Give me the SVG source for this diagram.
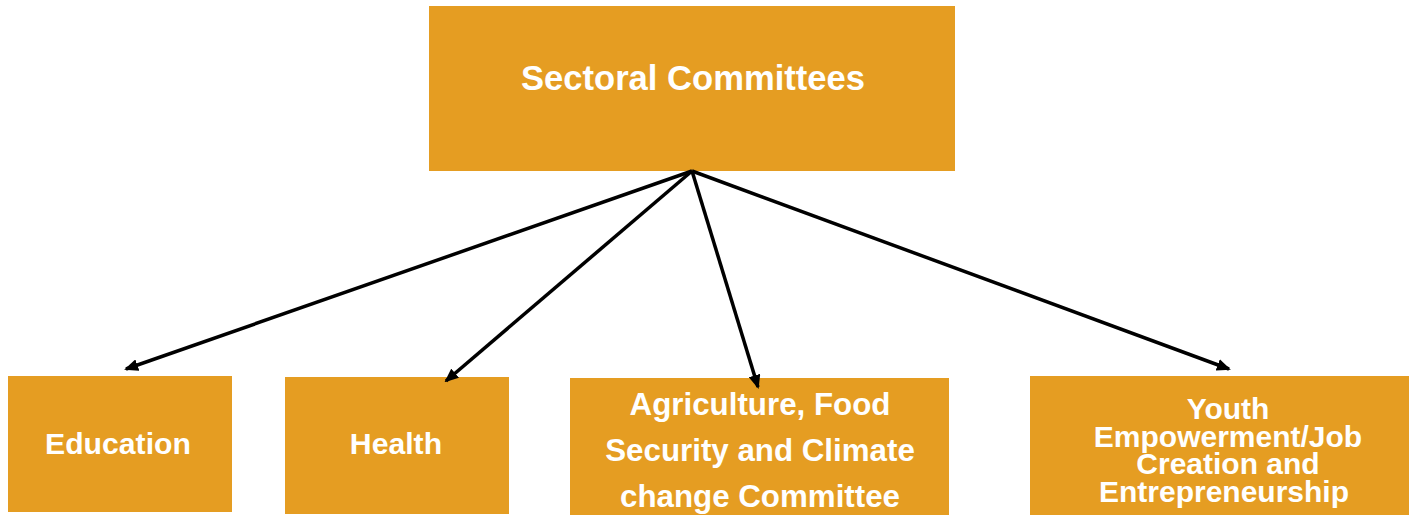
<svg xmlns="http://www.w3.org/2000/svg" width="1412" height="515" viewBox="0 0 1412 515">
<style>
.box{fill:#E59D22}
.t{fill:#fff;font-family:"Liberation Sans",Arial,sans-serif;font-weight:bold;text-anchor:middle}
.c{stroke:#000;stroke-width:3.5;fill:none;marker-end:url(#ah)}
</style>
<defs>
<marker id="ah" markerWidth="14" markerHeight="12" refX="12" refY="6" orient="auto" markerUnits="userSpaceOnUse">
<path d="M0,0 L14,6 L0,12 Z" fill="#000"/>
</marker>
</defs>
<rect width="1412" height="515" fill="#fff"/>
<g id="sectoral">
<rect class="box" x="429" y="6" width="526" height="165"/>
<text class="t" x="693" y="90" font-size="34.6">Sectoral Committees</text>
</g>
<g id="education">
<rect class="box" x="8" y="376" width="224" height="136"/>
<text class="t" x="118" y="454" font-size="30.2">Education</text>
</g>
<g id="health">
<rect class="box" x="285" y="377" width="224" height="137"/>
<text class="t" x="396" y="454" font-size="30.2">Health</text>
</g>
<g id="agriculture">
<rect class="box" x="570" y="378" width="379" height="137"/>
<text class="t" x="760" y="415" font-size="31.3">Agriculture, Food</text>
<text class="t" x="760" y="461" font-size="31.3">Security and Climate</text>
<text class="t" x="760" y="507" font-size="31.3">change Committee</text>
</g>
<g id="youth">
<rect class="box" x="1030" y="376" width="379" height="139"/>
<text class="t" x="1228" y="419" font-size="30">Youth</text>
<text class="t" x="1228" y="447" font-size="30">Empowerment/Job</text>
<text class="t" x="1228" y="474" font-size="30">Creation and</text>
<text class="t" x="1224" y="502" font-size="30">Entrepreneurship</text>
</g>
<g id="connectors">
<line class="c" x1="692" y1="171" x2="126" y2="369"/>
<line class="c" x1="692" y1="171" x2="446" y2="381"/>
<line class="c" x1="692" y1="171" x2="758" y2="387"/>
<line class="c" x1="692" y1="171" x2="1229" y2="369"/>
</g>
</svg>
